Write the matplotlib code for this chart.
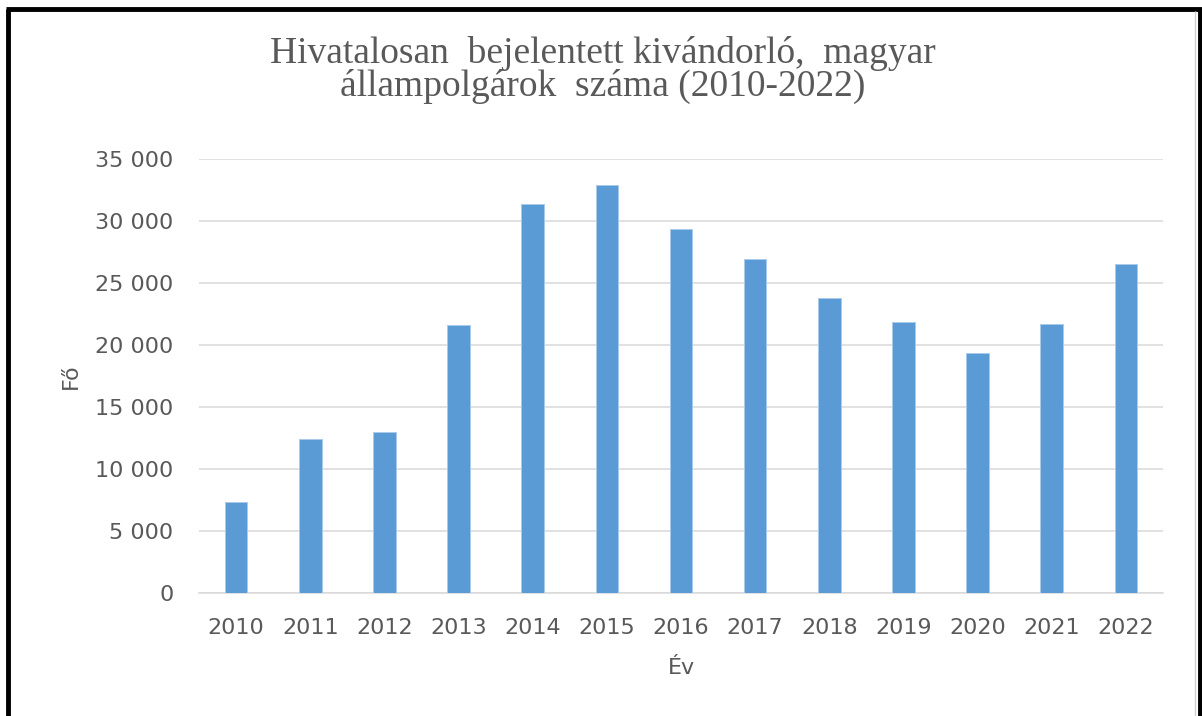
import numpy as np
import matplotlib
matplotlib.use("Agg")
import matplotlib.pyplot as plt
from matplotlib.lines import Line2D
from matplotlib.ticker import FuncFormatter

# ── Data ──────────────────────────────────────────────────────
years = ["2010", "2011", "2012", "2013", "2014", "2015", "2016",
         "2017", "2018", "2019", "2020", "2021", "2022"]
emigrants = [7300, 12420, 12960, 21600, 31320, 32850, 29360,
             26950, 23810, 21820, 19320, 21710, 26510]
y_ticks = [0, 5000, 10000, 15000, 20000, 25000, 30000, 35000]

title_lines = ["Hivatalosan  bejelentett kivándorló,  magyar",
               "állampolgárok  száma (2010-2022)"]

BAR_COLOR = "#5B9BD5"
TEXT_GRAY = "#595959"
GRID_GRAY = "#D9D9D9"

W, H = 1202, 716
fig = plt.figure(figsize=(W / 100, H / 100), dpi=100)
fig.patch.set_facecolor("white")

ax = fig.add_axes([199 / W, (H - 593) / H, (1163 - 199) / W, (593 - 158.7) / H])

x = np.arange(len(years))
ax.bar(x, emigrants, width=0.305, color=BAR_COLOR, edgecolor="#A9CBEA",
       linewidth=0.7, zorder=3)

ax.set_xlim(-0.5, len(years) - 0.5)
ax.set_ylim(0, 35000)
ax.set_yticks(y_ticks)
ax.yaxis.set_major_formatter(FuncFormatter(lambda v, p: f"{int(v):,}".replace(",", " ")))
ax.set_xticks(x)
ax.set_xticklabels(years)

ax.grid(axis="y", color=GRID_GRAY, linewidth=1.1, zorder=0)
ax.set_axisbelow(True)
for s in ["top", "right", "left"]:
    ax.spines[s].set_visible(False)
ax.spines["bottom"].set_color(GRID_GRAY)
ax.spines["bottom"].set_linewidth(1.1)

ax.tick_params(axis="both", length=0, labelsize=16, labelcolor=TEXT_GRAY)
ax.tick_params(axis="y", pad=18.5)
ax.tick_params(axis="x", pad=18)

ax.set_xlabel("Év", fontsize=16, color=TEXT_GRAY)
ax.set_ylabel("Fő", fontsize=16, color=TEXT_GRAY)
ax.xaxis.set_label_coords(0.5, -0.150)
ax.yaxis.set_label_coords(-0.123, 0.5)

# two-line title, each line placed on its own baseline
for line, base in zip(title_lines, [63, 96]):
    fig.text(603 / W, 1 - base / H, line, ha="center", va="baseline",
             family="Liberation Serif", fontsize=27, color=TEXT_GRAY)

# frame around the picture (left, top, right; no bottom edge)
fig.add_artist(Line2D([8 / W, 8 / W], [0, 1 - 9 / H], color="black", lw=3.5,
                      transform=fig.transFigure, solid_capstyle="butt"))
fig.add_artist(Line2D([6 / W, 1], [1 - 9 / H, 1 - 9 / H], color="black", lw=3.5,
                      transform=fig.transFigure, solid_capstyle="butt"))
fig.add_artist(Line2D([1199.5 / W, 1199.5 / W], [0, 1 - 9 / H], color="black", lw=3.5,
                      transform=fig.transFigure, solid_capstyle="butt"))
fig.add_artist(Line2D([1195 / W, 1195 / W], [0, 1 - 11 / H], color="#D0D0D0", lw=1,
                      transform=fig.transFigure, solid_capstyle="butt"))

fig.savefig("out.png", dpi=100, facecolor="white")
